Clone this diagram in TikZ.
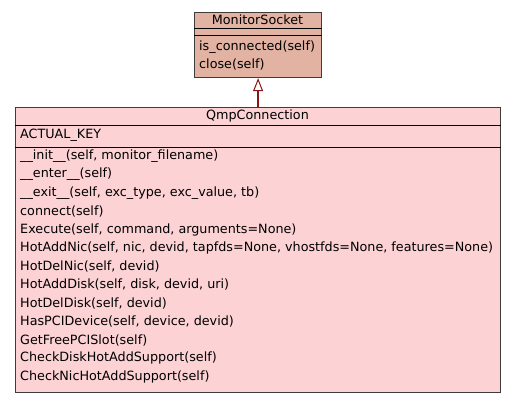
\documentclass[tikz,border=0pt]{standalone}
\usepackage{fontspec}
\setmainfont{DejaVu Sans}
\usetikzlibrary{arrows.meta,positioning}
\definecolor{csock}{RGB}{226,178,162}
\definecolor{cqmp}{RGB}{252,210,212}
\definecolor{cedge}{RGB}{64,60,60}
\definecolor{cinh}{RGB}{139,20,20}

\begin{document}
\begin{tikzpicture}[x=1pt, y=-1pt,
  font=\fontsize{12.75}{15}\selectfont,
  classbox/.style={draw=cedge, line width=1.2pt, inner sep=0pt, anchor=north west},
  member/.style={anchor=west, inner sep=0pt},
  title/.style={inner sep=0pt},
  sep/.style={draw=black, line width=0.9pt},
  inh/.style={-{Triangle[open, fill=white, length=13pt, width=10pt, line width=1pt]}, draw=cinh, line width=2pt},
]
\useasboundingbox (0,0) rectangle (515,403);
% base class
\node[classbox, fill=csock, minimum width=127pt, minimum height=65pt] (sock) at (194,12) {};
\draw[sep] (sock.west |- 0,28) -- (sock.east |- 0,28);
\draw[sep] (sock.west |- 0,35) -- (sock.east |- 0,35);
\node[title] (socktitle) at (257.5,20) {MonitorSocket};
\node[member] (sm1) at (199,47) {is\_connected(self)};
\node[member] (sm2) at (199,65) {close(self)};
% derived class
\node[classbox, fill=cqmp, minimum width=485pt, minimum height=285pt] (qmp) at (15,107) {};
\draw[sep] (qmp.west |- 0,125) -- (qmp.east |- 0,125);
\draw[sep] (qmp.west |- 0,147) -- (qmp.east |- 0,147);
\node[title] (qmptitle) at (257.5,116) {QmpConnection};
\node[member] (qa1) at (20,135) {ACTUAL\_KEY};
\foreach \txt [count=\i from 0] in {%
  \_\_init\_\_(self{,} monitor\_filename),
  \_\_enter\_\_(self),
  \_\_exit\_\_(self{,} exc\_type{,} exc\_value{,} tb),
  connect(self),
  Execute(self{,} command{,} arguments=None),
  HotAddNic(self{,} nic{,} devid{,} tapfds=None{,} vhostfds=None{,} features=None),
  HotDelNic(self{,} devid),
  HotAddDisk(self{,} disk{,} devid{,} uri),
  HotDelDisk(self{,} devid),
  HasPCIDevice(self{,} device{,} devid),
  GetFreePCISlot(self),
  CheckDiskHotAddSupport(self),
  CheckNicHotAddSupport(self)}
  \node[member] (qm\i) at (20,{156+18.4*\i}) {\txt};
% inheritance
\draw[inh] (qmp.north) -- (sock.south);
\end{tikzpicture}
\end{document}
